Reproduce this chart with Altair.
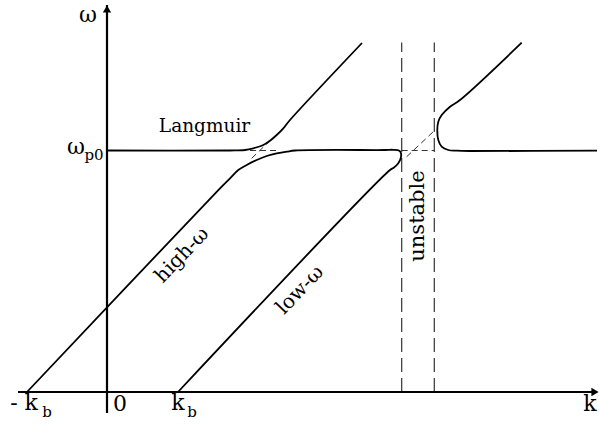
import altair as alt
import pandas as pd

# Coordinates: k along the wavenumber axis, w along the frequency axis,
# measured from the point where the two axes cross.
W_P0 = 241.5

# Langmuir branch: flat at w_p0, then bending up along the high-w beam line
lang_k = [0, 123, 138, 146.3, 156.3, 163, 169.7, 176.3, 183, 255]
lang_w = [241.5, 241.5, 242, 243.7, 247, 251.3, 257, 263.7, 272, 349]

# high-w beam mode -> flattening at w_p0 -> curling down into the low-w beam mode
beam_k = [-80, 113, 123, 131.3, 139.7, 149.7, 159.7, 169.7, 179.7, 188, 278,
          286.3, 292.3, 294, 293.7, 291.3, 287, 283, 71]
beam_w = [0, 203.7, 213.7, 222, 227, 232, 236, 238.7, 240.3, 241.5, 242,
          242.2, 241.3, 238.7, 233.7, 228.7, 224.5, 222, 0]

# branch beyond the unstable band
right_k = [490, 363, 349.7, 341.3, 334.7, 331.3, 330.3, 331.3, 334.7, 343, 353, 414.7]
right_w = [241.3, 241, 241.3, 242, 245.3, 252, 262, 270.3, 277, 285.3, 292, 349.3]

# unstable band edges
band_k = [294.7, 327.3]
band_w = [0, 349.5]

# dashed asymptotes near the two crossings
asym_k = [[133, 171], [294.7, 327.3], [144.7, 163], [299.7, 326.3]]
asym_w = [[W_P0, W_P0], [W_P0, W_P0], [233.7, 251.3], [235.3, 260.3]]

# axes
axis_k = [[-89, 490], [0, 0]]
axis_w = [[0, 0], [-21, 387]]

# labels: text, k, w, size, angle
labels = ["ω", "ω", "p0", "Langmuir", "high-ω", "low-ω", "unstable",
          "- k", "b", "0", "k", "b", "k"]
label_k = [-19, -31, -13, 97.5, 75, 193, 311, -83, -60, 13, 71, 85, 483]
label_w = [377, 245, 237, 266, 137, 102, 176, -11, -20, -12, -11, -20, -12]
label_size = [22, 22, 15, 18.5, 20, 20, 21, 22, 15, 22, 22, 15, 22]
label_angle = [0, 0, 0, 0, 314, 314, 270, 0, 0, 0, 0, 0, 0]


def path(name, ks, ws):
    return pd.DataFrame({"series": name, "k": ks, "w": ws, "order": range(len(ks))})


curves = pd.concat([
    path("langmuir", lang_k, lang_w),
    path("beam", beam_k, beam_w),
    path("right", right_k, right_w),
])
band = pd.concat([path(f"edge{i}", [k, k], band_w) for i, k in enumerate(band_k)])
asym = pd.concat([path(f"asym{i}", ks, ws) for i, (ks, ws) in enumerate(zip(asym_k, asym_w))])
axes = pd.concat([path(f"axis{i}", ks, ws) for i, (ks, ws) in enumerate(zip(axis_k, axis_w))])
heads = pd.DataFrame({"k": [488, 0], "w": [0, 383], "shape": ["triangle-right", "triangle-up"]})
texts = pd.DataFrame({"label": labels, "k": label_k, "w": label_w,
                      "size": label_size, "angle": label_angle})

xs = alt.Scale(domain=[-107, 493], nice=False, zero=False)
ys = alt.Scale(domain=[-34, 392], nice=False, zero=False)
X = alt.X("k:Q", scale=xs, axis=None)
Y = alt.Y("w:Q", scale=ys, axis=None)

SERIF = "DejaVu Serif"

axis_layer = alt.Chart(axes).mark_line(color="black", strokeWidth=2.2).encode(
    x=X, y=Y, detail="series:N", order="order:Q")
head_layer = alt.Chart(heads).mark_point(filled=True, color="black", opacity=1, size=70).encode(
    x=X, y=Y, shape=alt.Shape("shape:N", scale=None))
curve_layer = alt.Chart(curves).mark_line(
    color="black", strokeWidth=1.8, interpolate="catmull-rom").encode(
    x=X, y=Y, detail="series:N", order="order:Q")
band_layer = alt.Chart(band).mark_line(
    color="#333333", strokeWidth=1.2, strokeDash=[14, 6]).encode(
    x=X, y=Y, detail="series:N", order="order:Q")
asym_layer = alt.Chart(asym).mark_line(
    color="#333333", strokeWidth=1, strokeDash=[6, 4]).encode(
    x=X, y=Y, detail="series:N", order="order:Q")
text_layer = alt.Chart(texts).mark_text(
    font=SERIF, color="black", align="center", baseline="middle").encode(
    x=X, y=Y, text="label:N",
    size=alt.Size("size:Q", scale=None),
    angle=alt.Angle("angle:Q", scale=None))

chart = alt.layer(
    band_layer, asym_layer, curve_layer, axis_layer, head_layer, text_layer
).properties(
    width=600, height=426, padding=0,
    autosize=alt.AutoSizeParams(type="none"),
    background="white",
).configure_view(stroke=None)

chart.save("out.html", embed_options={"renderer": "svg", "actions": False})
